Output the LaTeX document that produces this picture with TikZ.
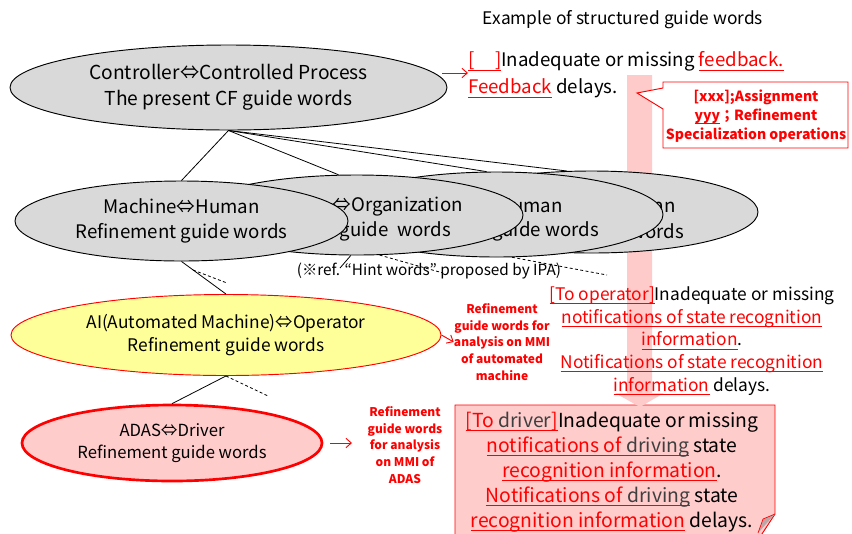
\documentclass[tikz,border=0pt]{standalone}
\usepackage{fontspec}
\setmainfont{Noto Sans CJK JP}
\usetikzlibrary{shapes.geometric,arrows.meta}
\definecolor{ellgray}{HTML}{D9D9D9}
\definecolor{ellyellow}{HTML}{FFFF99}
\definecolor{ellpink}{HTML}{FFCCCC}
\definecolor{arrowpink}{HTML}{FFCACA}
\definecolor{rd}{HTML}{FF0000}
\definecolor{drvgray}{HTML}{3F3F3F}
\definecolor{foldgray}{HTML}{BFA6A6}
\newsavebox\ulbox
\newcommand\rul[2][rd]{\sbox\ulbox{\textcolor{#1}{#2}}\leavevmode\rlap{\textcolor{rd}{\rule[-2.8pt]{\wd\ulbox}{0.75pt}}}\usebox\ulbox}
\begin{document}
\begin{tikzpicture}[x=0.75pt,y=-0.75pt,
  ell/.style={ellipse, draw=black, line width=0.7pt, fill=ellgray, inner sep=0pt, align=center},
  conn/.style={draw=black, line width=0.6pt},
  dconn/.style={draw=black, line width=0.6pt, dash pattern=on 2.2pt off 1.8pt},
  redarr/.style={draw=rd, line width=0.7pt, -{Straight Barb[length=4pt,width=7pt]}},
  redtxt/.style={text=rd, font=\bfseries\fontsize{9}{12.6}\selectfont, align=center, inner sep=0pt},
  elltxt/.style={font=\fontsize{14}{18.75}\selectfont, inner sep=0pt, anchor=east}]
\useasboundingbox (0,0) rectangle (852,533);

% title
\node[font=\fontsize{13}{15}\selectfont] (title) at (623,20) {Example of structured guide words};

% bottom callout box (behind the big arrow tip)
\draw[draw=rd, fill=ellpink, line width=0.7pt] (455,405) -- (775,405) -- (775,514) -- (758,540) -- (455,540) -- cycle;
\fill[foldgray] (758,533) -- (775,514) -- (763,519) -- cycle;
\draw[draw=rd, line width=0.5pt] (758,533) -- (763,519) -- (775,514);

% big pink arrow
\fill[arrowpink] (627,75) -- (652,75) -- (652,393) -- (664,393) -- (640,407) -- (615,393) -- (627,393) -- cycle;

% top ellipse
\node[ell, minimum width=327.75pt, minimum height=63.75pt, font=\fontsize{14.4}{19.5}\selectfont] (top) at (228.5,87.5) {Controller⇔Controlled Process\\The present CF guide words};

% middle row ellipses, back to front
\node[ell, minimum width=249.75pt, minimum height=61.5pt] (hum4) at (591.5,212) {};
\node[elltxt] (hum4a) at (676,206) {Human};
\node[elltxt] (hum4b) at (684,231) {words};
\node[ell, minimum width=249.75pt, minimum height=63.75pt] (hum3) at (496.5,214.5) {};
\node[elltxt] (hum3a) at (563,206) {Human};
\node[elltxt] (hum3b) at (599,231) {guide words};
\node[ell, minimum width=249.75pt, minimum height=60pt] (org) at (356.5,215) {};
\node[elltxt] (orga) at (463,207) {⇔Organization};
\node[elltxt] (orgb) at (451,231) {guide\ \ words};
\node[ell, minimum width=249.75pt, minimum height=60pt, font=\fontsize{14}{18.75}\selectfont] (mach) at (181.5,221) {Machine⇔Human\\Refinement guide words};

% connectors from top ellipse
\draw[conn] (top.south) -- (mach.north);
\draw[conn] (top.south) -- (org.114);
\draw[conn] (top.south) -- (hum3.103);
\draw[conn] (top.south) -- (hum4.121);

% reference note and lines below middle row
\coordinate (d1a) at (193,270);
\coordinate (d1b) at (227,283);
\coordinate (v2b) at (340,268);
\coordinate (d2b) at (443,273);
\coordinate (d3b) at (607,275);
\draw[conn] (org.262) -- (v2b);
\draw[dconn] (d1a) -- (d1b);
\draw[dconn] (org.300) -- (d2b);
\draw[dconn] (hum3.290) -- (d3b);
\node[font=\fontsize{11.5}{13}\selectfont, inner sep=0pt] (ref) at (429,271) {(※ref. “Hint words” proposed by IPA)};

% AI ellipse
\node[ell, draw=rd, fill=ellyellow, minimum width=322.5pt, minimum height=60.75pt, font=\fontsize{13}{17.25}\selectfont] (ai) at (226,335) {AI(Automated Machine)⇔Operator\\Refinement guide words};
\draw[conn] (mach.south) -- (ai.north);

% ADAS ellipse
\node[ell, draw=rd, line width=2pt, fill=ellpink, minimum width=225pt, minimum height=57pt, font=\fontsize{12.5}{16.5}\selectfont] (adas) at (172,443) {ADAS⇔Driver\\Refinement guide words};
\coordinate (d4b) at (268,396);
\draw[conn] (ai.south) -- (adas.north);
\draw[dconn] (ai.south) -- (d4b);

% red side notes
\node[redtxt] (aitxt) at (502,342) {Refinement\\guide words for\\analysis on MMI\\of automated\\machine};
\node[redtxt] (adastxt) at (405,445) {Refinement\\guide words\\for analysis\\on MMI of\\ADAS};
\draw[redarr] (ai.east) -- (aitxt.west);
\coordinate (adasarr) at (352,443);
\draw[redarr, shorten <=5pt] (adas.east) -- (adasarr);

% top example text
\node[anchor=west, align=left, inner sep=0pt, font=\fontsize{14}{20.25}\selectfont] (fb) at (468,75) {\rul{[\hspace{1.1em}]}Inadequate or missing \rul{feedback.}\\\rul{Feedback} delays.};
\coordinate (fbarr) at (442,73);
\draw[redarr] (fbarr) -- (fb.west |- fbarr);

% callout
\draw[draw=rd, fill=white, line width=0.7pt] (663,82) -- (848,82) -- (848,148) -- (663,148) -- (663,109) -- (637,93) -- (663,88) -- cycle;
\node[text=rd, font=\bfseries\fontsize{10.5}{14.25}\selectfont, align=center, inner sep=0pt] (asg) at (756,116) {[xxx];Assignment\\\rul{yyy}；Refinement\\Specialization operations};

% operator example
\node[align=center, inner sep=0pt, font=\fontsize{13}{17}\selectfont] (op) at (692,341) {\rul{[To operator]}Inadequate or missing\\\rul{notifications of state recognition}\\\rul{information}.\\\rul{Notifications of state recognition}\\\rul{information} delays.};

% driver example
\node[align=center, inner sep=0pt, font=\fontsize{14.5}{18.75}\selectfont] (drv) at (612,472) {\rul{[To \textcolor{drvgray}{driver}]}Inadequate or missing\\\rul{notifications of \textcolor{drvgray}{driving}} state\\\rul{recognition information}.\\\rul{Notifications of \textcolor{drvgray}{driving}} state\\\rul{recognition information} delays.};
\end{tikzpicture}
\end{document}
